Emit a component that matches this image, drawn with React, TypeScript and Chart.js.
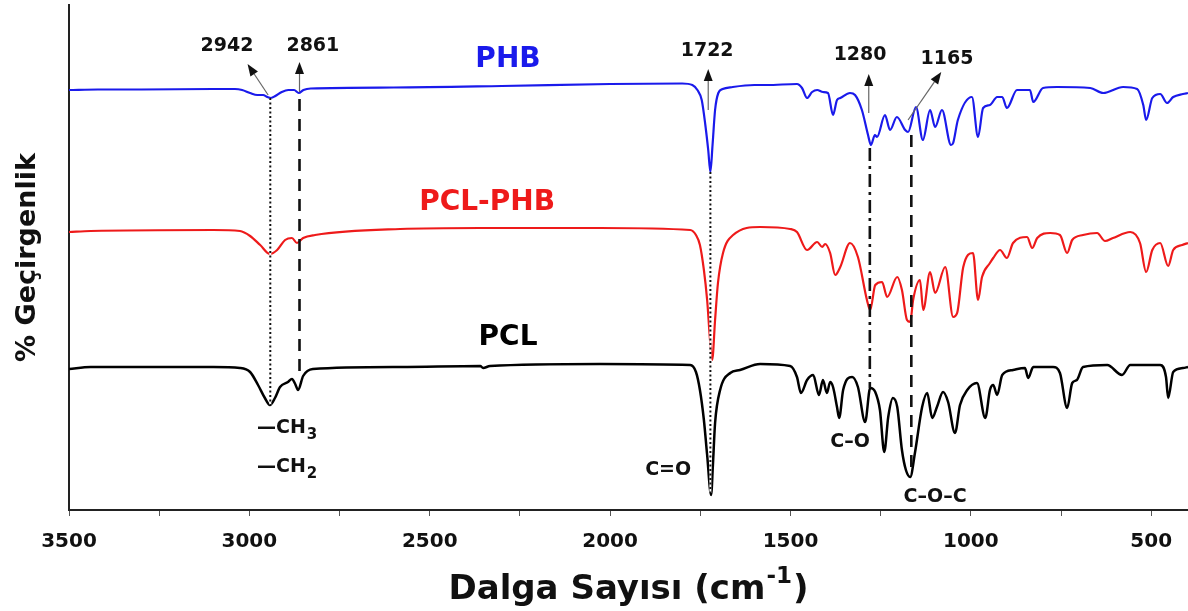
import React, { useEffect, useRef } from 'react';
import { Chart, registerables } from 'chart.js';

Chart.register(...registerables);

const FONT = '"DejaVu Sans", "Liberation Sans", sans-serif';

// ---- spectra (wavenumber cm-1, transmittance in arbitrary offset units) ----
const phbWavenumber = [3500, 3420, 3300, 3100, 3040, 3020, 2998, 2978, 2962, 2950, 2940, 2928, 2910, 2892, 2876, 2863, 2850, 2830, 2600, 2300, 2000, 1800, 1772, 1758, 1746, 1736, 1728, 1722, 1716, 1709, 1700, 1688, 1660, 1600, 1565, 1482, 1468, 1454, 1440, 1426, 1410, 1396, 1382, 1371, 1362, 1335, 1321, 1302, 1285, 1277, 1266, 1260, 1238, 1224, 1205, 1182, 1174, 1152, 1133, 1113, 1099, 1080, 1055, 1049, 1036, 997, 980, 966, 947, 927, 913, 900, 872, 836, 827, 800, 761, 669, 633, 578, 539, 522, 514, 497, 475, 456, 439, 412, 398];
const phbTransmittance = [84.0, 84.1, 84.1, 84.2, 84.2, 84.0, 83.4, 83.0, 83.0, 82.6, 82.4, 82.8, 83.6, 84.0, 84.0, 83.4, 84.0, 84.3, 84.5, 84.8, 85.2, 85.3, 85.0, 84.0, 82.0, 77.0, 72.0, 67.6, 73.0, 80.0, 83.4, 84.2, 84.6, 85.0, 85.0, 85.2, 84.4, 82.4, 83.6, 84.0, 83.6, 83.4, 79.0, 82.0, 82.4, 83.4, 83.0, 80.0, 75.0, 73.0, 75.0, 74.6, 79.0, 76.0, 78.6, 76.0, 75.6, 80.6, 74.0, 80.0, 76.6, 80.0, 73.0, 73.4, 78.0, 82.6, 74.6, 80.4, 81.0, 82.6, 82.6, 80.4, 84.0, 84.0, 81.6, 84.4, 84.6, 84.4, 83.4, 84.6, 84.2, 81.0, 78.0, 82.4, 83.2, 81.4, 82.6, 83.2, 83.4];

const blendWavenumber = [3500, 3440, 3100, 3026, 2998, 2970, 2943, 2923, 2901, 2882, 2868, 2851, 2818, 2582, 2360, 2028, 1778, 1762, 1751, 1740, 1731, 1723, 1717, 1709, 1701, 1687, 1659, 1584, 1501, 1482, 1454, 1426, 1412, 1404, 1390, 1376, 1362, 1335, 1313, 1288, 1279, 1265, 1246, 1232, 1204, 1191, 1177, 1168, 1160, 1141, 1132, 1113, 1099, 1071, 1049, 1038, 1021, 994, 980, 969, 947, 938, 919, 900, 883, 844, 830, 816, 780, 753, 733, 719, 689, 650, 628, 606, 558, 531, 514, 497, 475, 453, 439, 414, 398];
const blendTransmittance = [55.6, 55.8, 56.0, 55.8, 54.8, 53.0, 51.2, 52.0, 54.0, 54.4, 53.4, 54.4, 55.0, 56.2, 56.4, 56.4, 56.0, 55.0, 53.0, 48.0, 42.0, 34.0, 30.0, 38.0, 45.4, 51.4, 55.0, 56.6, 56.2, 55.6, 52.0, 53.6, 52.6, 53.2, 51.4, 47.0, 48.6, 53.4, 50.6, 42.0, 40.0, 45.0, 45.6, 42.6, 46.6, 44.0, 38.0, 37.6, 42.0, 46.0, 40.0, 47.6, 43.4, 48.6, 38.6, 39.4, 48.6, 51.4, 42.0, 46.6, 49.4, 50.4, 52.0, 50.4, 53.4, 54.6, 52.4, 54.4, 55.4, 55.0, 51.4, 54.0, 55.0, 55.4, 53.8, 54.4, 55.6, 53.4, 47.6, 52.0, 53.4, 48.8, 52.0, 53.0, 53.4];

const pclWavenumber = [3500, 3440, 3100, 3026, 2998, 2976, 2957, 2943, 2929, 2915, 2893, 2882, 2873, 2865, 2851, 2824, 2582, 2360, 2352, 2333, 2028, 1778, 1762, 1751, 1740, 1731, 1720, 1715, 1709, 1695, 1667, 1640, 1584, 1501, 1482, 1471, 1454, 1437, 1421, 1410, 1399, 1390, 1382, 1371, 1365, 1354, 1329, 1313, 1293, 1279, 1265, 1252, 1240, 1229, 1216, 1204, 1191, 1180, 1168, 1155, 1135, 1121, 1107, 1094, 1077, 1063, 1044, 1030, 1010, 983, 960, 947, 938, 927, 913, 883, 850, 841, 827, 772, 753, 733, 719, 706, 689, 622, 581, 558, 475, 459, 453, 439, 412, 398];
const pclTransmittance = [28.2, 28.6, 28.6, 28.4, 27.6, 25.0, 22.4, 21.0, 22.4, 24.6, 25.6, 26.2, 25.2, 24.0, 26.8, 28.2, 28.6, 28.8, 28.4, 28.8, 29.2, 29.0, 27.6, 24.0, 18.0, 11.0, 3.0, 9.0, 17.4, 24.0, 27.4, 28.0, 29.2, 28.8, 26.6, 23.4, 26.0, 27.0, 23.0, 26.0, 23.4, 25.6, 24.6, 20.6, 18.4, 24.0, 26.6, 24.6, 17.6, 24.4, 23.6, 20.0, 11.6, 18.6, 22.4, 20.6, 12.0, 8.0, 6.6, 11.4, 20.6, 23.4, 18.4, 20.6, 23.6, 21.6, 15.4, 21.0, 24.0, 25.4, 18.4, 24.0, 25.0, 23.0, 27.0, 28.0, 28.4, 26.4, 28.6, 28.6, 27.4, 20.4, 25.4, 26.0, 28.6, 29.0, 27.0, 29.0, 29.0, 26.6, 22.4, 27.6, 28.4, 28.6];

const seriesNames = ['PHB', 'PCL-PHB', 'PCL'];
const seriesColors = ['#1a1aeb', '#ee1a1a', '#000000'];
const seriesWidths = [2.2, 2.2, 2.5];

// axis
const xMin = 398;
const xMax = 3500;
const xTickStep = 250;
const xLabelStep = 500;
const yMin = 0;
const yMax = 101;

// peak annotations (in data units)
const peakLabels = ['2942', '2861', '1722', '1280', '1165'];
const peakLabelAt = [[3062, 92.8], [2824, 92.8], [1731, 91.8], [1307, 91.0], [1066, 90.2]];
const arrowFrom = [[2948, 83.0], [2861, 83.6], [1728, 80.0], [1283, 79.4], [1174, 78.0]];
const arrowTo = [[3005, 89.2], [2861, 89.6], [1728, 88.2], [1283, 87.2], [1082, 87.6]];
const guideWavenumber = [2942, 2861, 1722, 1280, 1165];
const guideFrom = [82.4, 82.2, 67.6, 72.4, 75.0];
const guideTo = [21.0, 27.6, 3.4, 24.4, 7.4];
const guideDash = [[2, 2.5], [12, 8], [2, 2.5], [13, 5, 3, 5], [12, 8]];

const groupLabels = ['C=O', 'C\u2013O', 'C\u2013O\u2013C'];
const groupLabelAt = [[1839, 8.0], [1335, 13.6], [1099, 2.6]];
const chainLabels = [['\u2014CH', '3'], ['\u2014CH', '2']];
const chainLabelAt = [[2979, 16.4], [2979, 8.6]];
const seriesLabelAt = [[2283, 90.0], [2341, 61.4], [2283, 34.4]];

const zip = (xs: number[], ys: number[]) => xs.map((x, i) => ({ x, y: ys[i] }));

const annotationPlugin = {
  id: 'ftirAnnotations',
  afterDatasetsDraw(chart: any) {
    const { ctx, scales } = chart;
    const xs = scales.x;
    const ys = scales.y;
    const px = (v: number) => xs.getPixelForValue(v);
    const py = (v: number) => ys.getPixelForValue(v);
    ctx.save();

    // vertical guide lines
    guideWavenumber.forEach((wn, i) => {
      const x = px(wn);
      const dotted = guideDash[i].length === 2 && guideDash[i][0] < 4;
      if (dotted) {
        ctx.setLineDash([]);
        ctx.strokeStyle = '#ffffff';
        ctx.lineWidth = 2;
        ctx.beginPath();
        ctx.moveTo(x, py(guideFrom[i]));
        ctx.lineTo(x, py(guideTo[i]));
        ctx.stroke();
      }
      ctx.setLineDash(guideDash[i]);
      ctx.strokeStyle = '#111111';
      ctx.lineWidth = dotted ? 2 : 2.6;
      ctx.beginPath();
      ctx.moveTo(x, py(guideFrom[i]));
      ctx.lineTo(x, py(guideTo[i]));
      ctx.stroke();
    });
    ctx.setLineDash([]);

    // arrows
    arrowFrom.forEach((f, i) => {
      const t = arrowTo[i];
      const x0 = px(f[0]);
      const y0 = py(f[1]);
      const x1 = px(t[0]);
      const y1 = py(t[1]);
      const ang = Math.atan2(y1 - y0, x1 - x0);
      const head = 12;
      const hw = 4.5;
      const bx = x1 - head * Math.cos(ang);
      const by = y1 - head * Math.sin(ang);
      ctx.strokeStyle = '#666666';
      ctx.lineWidth = 1.2;
      ctx.beginPath();
      ctx.moveTo(x0, y0);
      ctx.lineTo(bx, by);
      ctx.stroke();
      ctx.fillStyle = '#111111';
      ctx.beginPath();
      ctx.moveTo(x1, y1);
      ctx.lineTo(bx + hw * Math.sin(ang), by - hw * Math.cos(ang));
      ctx.lineTo(bx - hw * Math.sin(ang), by + hw * Math.cos(ang));
      ctx.closePath();
      ctx.fill();
    });

    ctx.textAlign = 'center';
    ctx.textBaseline = 'middle';

    // peak numbers
    ctx.fillStyle = '#111111';
    ctx.font = `bold 19px ${FONT}`;
    peakLabels.forEach((s, i) => {
      ctx.fillText(s, px(peakLabelAt[i][0]), py(peakLabelAt[i][1]));
    });

    // series names
    ctx.font = `bold 28px ${FONT}`;
    seriesNames.forEach((s, i) => {
      ctx.fillStyle = seriesColors[i];
      ctx.fillText(s, px(seriesLabelAt[i][0]), py(seriesLabelAt[i][1]));
    });

    // functional groups
    ctx.fillStyle = '#111111';
    ctx.font = `bold 19px ${FONT}`;
    groupLabels.forEach((s, i) => {
      ctx.fillText(s, px(groupLabelAt[i][0]), py(groupLabelAt[i][1]));
    });

    // chain labels with subscripts
    ctx.textAlign = 'left';
    chainLabels.forEach((parts, i) => {
      const x = px(chainLabelAt[i][0]);
      const y = py(chainLabelAt[i][1]);
      ctx.font = `bold 19px ${FONT}`;
      ctx.fillText(parts[0], x, y);
      const w = ctx.measureText(parts[0]).width;
      ctx.font = `bold 15px ${FONT}`;
      ctx.fillText(parts[1], x + w + 1, y + 7);
    });

    ctx.restore();
  },
  afterDraw(chart: any) {
    const { ctx, chartArea } = chart;
    ctx.save();
    const main = 'Dalga Say\u0131s\u0131 (cm';
    const sup = '-1';
    const close = ')';
    const bigFont = `bold 34px ${FONT}`;
    const supFont = `bold 23px ${FONT}`;
    ctx.font = bigFont;
    const w1 = ctx.measureText(main).width;
    const w3 = ctx.measureText(close).width;
    ctx.font = supFont;
    const w2 = ctx.measureText(sup).width;
    const total = w1 + w2 + w3 + 2;
    const cx = (chartArea.left + chartArea.right) / 2;
    let x = cx - total / 2;
    const base = 599;
    ctx.fillStyle = '#111111';
    ctx.textBaseline = 'alphabetic';
    ctx.textAlign = 'left';
    ctx.font = bigFont;
    ctx.fillText(main, x, base);
    x += w1 + 1;
    ctx.font = supFont;
    ctx.fillText(sup, x, base - 16);
    x += w2 + 1;
    ctx.font = bigFont;
    ctx.fillText(close, x, base);
    ctx.restore();
  },
};

export default function App() {
  const canvasRef = useRef<HTMLCanvasElement | null>(null);

  useEffect(() => {
    const canvas = canvasRef.current;
    if (!canvas) return;
    const series = [
      zip(phbWavenumber, phbTransmittance),
      zip(blendWavenumber, blendTransmittance),
      zip(pclWavenumber, pclTransmittance),
    ];
    const chart = new Chart(canvas, {
      type: 'line',
      data: {
        datasets: series.map((d, i) => ({
          label: seriesNames[i],
          data: d,
          borderColor: seriesColors[i],
          backgroundColor: seriesColors[i],
          borderWidth: seriesWidths[i],
          pointRadius: 0,
          cubicInterpolationMode: 'monotone' as const,
          fill: false,
        })),
      },
      options: {
        responsive: false,
        animation: false,
        devicePixelRatio: 1,
        layout: { padding: { top: 5, right: 0, bottom: 0, left: 0 } },
        plugins: {
          legend: { display: false },
          tooltip: { enabled: false },
        },
        scales: {
          x: {
            type: 'linear',
            reverse: true,
            min: xMin,
            max: xMax,
            border: { display: true, color: '#222222', width: 2 },
            grid: {
              display: true,
              drawOnChartArea: false,
              drawTicks: true,
              tickLength: 6,
              tickColor: '#555555',
              lineWidth: 1,
            },
            ticks: {
              stepSize: xTickStep,
              includeBounds: false,
              autoSkip: false,
              maxRotation: 0,
              padding: 14,
              color: '#111111',
              font: { family: FONT, size: 20, weight: 'bold' },
              callback: (v: any) => (Number(v) % xLabelStep === 0 ? String(v) : ''),
            },
            afterFit: (scale: any) => {
              scale.height = 101;
            },
          },
          y: {
            type: 'linear',
            min: yMin,
            max: yMax,
            border: { display: true, color: '#222222', width: 2 },
            grid: { display: false },
            ticks: { display: false },
            title: {
              display: true,
              text: '% Ge\u00e7irgenlik',
              color: '#111111',
              font: { family: FONT, size: 27, weight: 'bold' },
              padding: { top: 12, bottom: 0 },
            },
            afterFit: (scale: any) => {
              scale.width = 69;
            },
          },
        },
      },
      plugins: [annotationPlugin],
    });
    return () => chart.destroy();
  }, []);

  return (
    <div style={{ position: 'fixed', left: 0, top: 0, width: 1188, height: 611, background: '#ffffff' }}>
      <canvas ref={canvasRef} width={1188} height={611} style={{ display: 'block' }} />
    </div>
  );
}
